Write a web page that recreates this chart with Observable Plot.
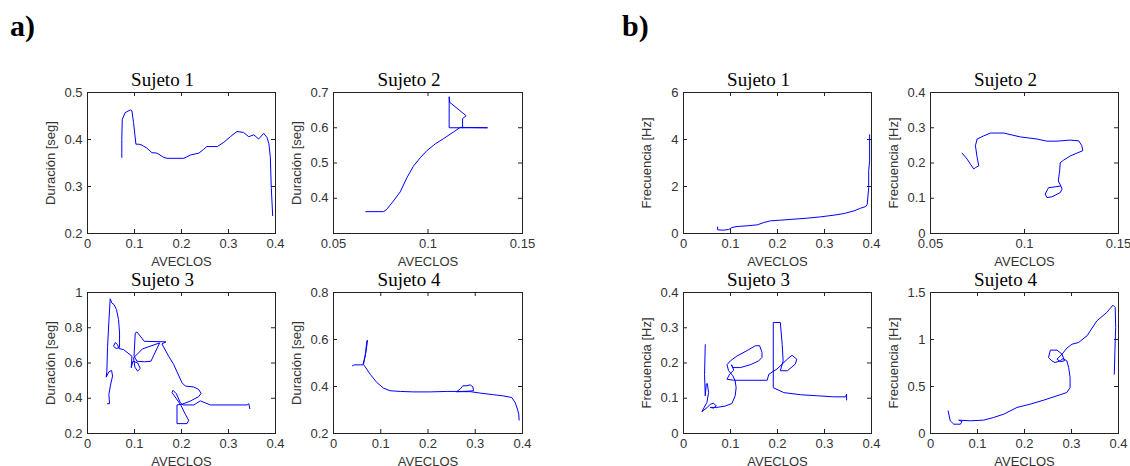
<!DOCTYPE html>
<html><head><meta charset="utf-8">
<script src="https://cdn.jsdelivr.net/npm/d3@7"></script>
<script src="https://cdn.jsdelivr.net/npm/@observablehq/plot@0.6"></script>
<style>
body{margin:0;background:#fff;}
#root{position:relative;width:1130px;height:466px;overflow:hidden;background:#fff;}
.pl{position:absolute;}
.tag{position:absolute;font-family:"Liberation Serif",serif;font-weight:bold;font-size:30px;line-height:1;color:#000;}
</style></head><body><div id="root"></div>
<script>
// Tick values
const xTicksWide = [0, 0.1, 0.2, 0.3, 0.4];
const xTicksNarrow = [0.05, 0.1, 0.15];
const yTicksDur1 = [0.2, 0.3, 0.4, 0.5];
const yTicksDur2 = [0.4, 0.5, 0.6, 0.7];
const yTicksDur3 = [0.2, 0.4, 0.6, 0.8, 1];
const yTicksDur4 = [0.2, 0.4, 0.6, 0.8];
const yTicksFrec1 = [0, 2, 4, 6];
const yTicksFrec2 = [0, 0.1, 0.2, 0.3, 0.4];
const yTicksFrec3 = [0, 0.1, 0.2, 0.3, 0.4];
const yTicksFrec4 = [0, 0.5, 1, 1.5];

// Series: [AVECLOS, value]
const durSujeto1 = [[0.073,0.362],[0.073,0.40],[0.074,0.443],[0.080,0.457],[0.091,0.463],[0.0945,0.461],[0.098,0.436],[0.103,0.390],[0.109,0.390],[0.116,0.388],[0.119,0.386],[0.126,0.382],[0.137,0.372],[0.148,0.371],[0.162,0.362],[0.169,0.360],[0.205,0.360],[0.219,0.367],[0.237,0.371],[0.247,0.379],[0.254,0.385],[0.276,0.385],[0.290,0.394],[0.304,0.406],[0.318,0.417],[0.332,0.415],[0.343,0.406],[0.354,0.410],[0.364,0.401],[0.375,0.413],[0.382,0.404],[0.386,0.391],[0.389,0.362],[0.391,0.298],[0.394,0.238]];
const durSujeto2 = [[0.0671,0.362],[0.0765,0.362],[0.0779,0.367],[0.0817,0.392],[0.0853,0.418],[0.0888,0.458],[0.0923,0.491],[0.0959,0.515],[0.0994,0.535],[0.1038,0.554],[0.1082,0.569],[0.1135,0.588],[0.1170,0.601],[0.1315,0.600],[0.1112,0.600],[0.1112,0.688],[0.1115,0.672],[0.1202,0.634],[0.1183,0.626],[0.1183,0.600]];
const durSujeto3 = [[0.0426,0.369],[0.0469,0.369],[0.0455,0.422],[0.0490,0.475],[0.0533,0.526],[0.0512,0.558],[0.0455,0.550],[0.0398,0.520],[0.0412,0.554],[0.0426,0.686],[0.0455,0.836],[0.0483,0.964],[0.0519,0.940],[0.0568,0.930],[0.0618,0.902],[0.0661,0.846],[0.0682,0.770],[0.0682,0.689],[0.0611,0.682],[0.0554,0.695],[0.0590,0.716],[0.0639,0.704],[0.0668,0.682],[0.0767,0.676],[0.0945,0.639],[0.0931,0.573],[0.0966,0.610],[0.1066,0.601],[0.1123,0.569],[0.1066,0.554],[0.1009,0.576],[0.0980,0.629],[0.1170,0.680],[0.1535,0.714],[0.1350,0.610],[0.1208,0.607],[0.1052,0.610],[0.0990,0.640],[0.1016,0.770],[0.1052,0.776],[0.1123,0.752],[0.1208,0.723],[0.1670,0.720],[0.1584,0.708],[0.1726,0.639],[0.1833,0.592],[0.2011,0.488],[0.2082,0.469],[0.2259,0.464],[0.2366,0.450],[0.2416,0.428],[0.2366,0.409],[0.2188,0.384],[0.2011,0.366],[0.1904,0.362],[0.1904,0.256],[0.2117,0.256],[0.2153,0.275],[0.2082,0.309],[0.1975,0.366],[0.1798,0.432],[0.1819,0.445],[0.1890,0.426],[0.1975,0.375],[0.2032,0.362],[0.2259,0.362],[0.2401,0.385],[0.2615,0.362],[0.3396,0.362],[0.3432,0.369],[0.3453,0.341]];
const durSujeto4 = [[0.0402,0.488],[0.0437,0.492],[0.0621,0.492],[0.0670,0.530],[0.0706,0.594],[0.0720,0.597],[0.0690,0.550],[0.0650,0.510],[0.0635,0.494],[0.0670,0.484],[0.0776,0.452],[0.0917,0.417],[0.1058,0.393],[0.1199,0.382],[0.1411,0.379],[0.1693,0.377],[0.2046,0.377],[0.2399,0.379],[0.2610,0.379],[0.2681,0.389],[0.2737,0.403],[0.2822,0.403],[0.2892,0.407],[0.2949,0.399],[0.2963,0.382],[0.2850,0.380],[0.2600,0.378],[0.2900,0.378],[0.3102,0.372],[0.3385,0.365],[0.3596,0.360],[0.3773,0.353],[0.3843,0.332],[0.3893,0.304],[0.3921,0.282],[0.3928,0.257]];
const frecSujeto1 = [[0.0726,0.28],[0.0726,0.156],[0.085,0.142],[0.096,0.170],[0.103,0.255],[0.114,0.298],[0.135,0.326],[0.157,0.369],[0.171,0.468],[0.185,0.539],[0.206,0.567],[0.235,0.61],[0.263,0.652],[0.292,0.709],[0.32,0.78],[0.342,0.851],[0.363,0.965],[0.377,1.078],[0.388,1.149],[0.391,1.248],[0.394,1.957],[0.394,2.667],[0.396,3.09],[0.396,4.2]];
const frecSujeto2 = [[0.0668,0.228],[0.0695,0.211],[0.0712,0.197],[0.0730,0.183],[0.0739,0.187],[0.0757,0.192],[0.0748,0.216],[0.0739,0.249],[0.0748,0.268],[0.0783,0.277],[0.0819,0.285],[0.0889,0.285],[0.0978,0.274],[0.1066,0.268],[0.1119,0.262],[0.1173,0.262],[0.1243,0.265],[0.1288,0.263],[0.1305,0.249],[0.1310,0.235],[0.1243,0.220],[0.1208,0.208],[0.1190,0.201],[0.1187,0.178],[0.1180,0.149],[0.1193,0.135],[0.1173,0.133],[0.1128,0.130],[0.1110,0.112],[0.1119,0.102],[0.1146,0.104],[0.1190,0.116],[0.1200,0.126],[0.1193,0.135]];
const frecSujeto3 = [[0.0463,0.252],[0.0448,0.168],[0.0463,0.107],[0.0484,0.140],[0.0505,0.142],[0.0534,0.116],[0.0498,0.088],[0.0391,0.062],[0.0498,0.073],[0.0570,0.083],[0.0640,0.086],[0.0698,0.078],[0.0640,0.072],[0.0570,0.074],[0.0710,0.074],[0.0890,0.078],[0.1030,0.085],[0.1100,0.107],[0.1120,0.130],[0.1100,0.149],[0.1050,0.164],[0.0960,0.178],[0.0925,0.195],[0.0996,0.206],[0.1140,0.220],[0.1350,0.235],[0.1530,0.249],[0.1620,0.249],[0.1670,0.230],[0.1670,0.216],[0.1600,0.206],[0.1420,0.195],[0.1210,0.187],[0.1050,0.187],[0.1020,0.195],[0.1070,0.180],[0.0980,0.168],[0.0925,0.154],[0.1070,0.151],[0.1780,0.151],[0.1815,0.168],[0.1990,0.183],[0.2210,0.211],[0.2310,0.222],[0.2410,0.211],[0.2380,0.197],[0.2210,0.178],[0.2060,0.178],[0.2120,0.206],[0.2100,0.253],[0.2060,0.315],[0.1910,0.315],[0.1910,0.206],[0.1910,0.130],[0.2135,0.116],[0.2490,0.110],[0.2850,0.107],[0.3200,0.104],[0.3450,0.104],[0.3470,0.112],[0.3470,0.095]];
const frecSujeto4 = [[0.0375,0.241],[0.042,0.135],[0.0496,0.099],[0.0637,0.099],[0.067,0.128],[0.060,0.142],[0.085,0.135],[0.113,0.142],[0.134,0.170],[0.156,0.206],[0.184,0.277],[0.212,0.312],[0.241,0.355],[0.269,0.401],[0.290,0.436],[0.297,0.489],[0.297,0.596],[0.294,0.702],[0.290,0.773],[0.282,0.798],[0.276,0.773],[0.265,0.755],[0.258,0.773],[0.251,0.809],[0.255,0.887],[0.269,0.887],[0.280,0.844],[0.285,0.773],[0.276,0.765],[0.269,0.791],[0.280,0.844],[0.290,0.908],[0.301,0.950],[0.315,0.968],[0.333,1.039],[0.354,1.199],[0.375,1.287],[0.388,1.365],[0.393,1.34],[0.394,1.128],[0.393,0.986],[0.391,0.631]];

const titles = ["Sujeto 1", "Sujeto 2", "Sujeto 3", "Sujeto 4"];
const xLabel = "AVECLOS";
const yLabelDur = "Duración [seg]";
const yLabelFrec = "Frecuencia [Hz]";

const ML = 60, MR = 12, MT = 34, MB = 40;
const panels = [
  {left:87,  top:92,  w:188, h:141, data:durSujeto1, xd:[0,0.4],     xt:xTicksWide,   yd:[0.2,0.5], yt:yTicksDur1,  yl:yLabelDur,  t:titles[0]},
  {left:333, top:92,  w:189, h:141, data:durSujeto2, xd:[0.05,0.15], xt:xTicksNarrow, yd:[0.3,0.7], yt:yTicksDur2,  yl:yLabelDur,  t:titles[1]},
  {left:87,  top:292, w:188, h:141, data:durSujeto3, xd:[0,0.4],     xt:xTicksWide,   yd:[0.2,1],   yt:yTicksDur3,  yl:yLabelDur,  t:titles[2]},
  {left:333, top:292, w:189, h:141, data:durSujeto4, xd:[0,0.4],     xt:xTicksWide,   yd:[0.2,0.8], yt:yTicksDur4,  yl:yLabelDur,  t:titles[3]},
  {left:683, top:92,  w:188, h:141, data:frecSujeto1, xd:[0,0.4],     xt:xTicksWide,   yd:[0,6],     yt:yTicksFrec1, yl:yLabelFrec, t:titles[0]},
  {left:930, top:92,  w:188, h:141, data:frecSujeto2, xd:[0.05,0.15], xt:xTicksNarrow, yd:[0,0.4],   yt:yTicksFrec2, yl:yLabelFrec, t:titles[1]},
  {left:683, top:292, w:188, h:141, data:frecSujeto3, xd:[0,0.4],     xt:xTicksWide,   yd:[0,0.4],   yt:yTicksFrec3, yl:yLabelFrec, t:titles[2]},
  {left:930, top:292, w:188, h:141, data:frecSujeto4, xd:[0,0.4],     xt:xTicksWide,   yd:[0,1.5],   yt:yTicksFrec4, yl:yLabelFrec, t:titles[3]}
];

const root = document.getElementById("root");
const fmt = d => String(d);
for (const p of panels) {
  const data = p.data.map(([x, y]) => ({x, y}));
  const svg = Plot.plot({
    width: ML + p.w + MR, height: MT + p.h + MB,
    marginLeft: ML, marginRight: MR, marginTop: MT, marginBottom: MB,
    style: {background: "transparent", overflow: "visible", fontFamily: "'Liberation Sans', Arial, sans-serif", fontSize: "13px", color: "#333"},
    x: {domain: p.xd, ticks: p.xt, tickFormat: fmt, tickSize: 0, tickPadding: 5, label: xLabel, labelAnchor: "center", labelOffset: 32, labelArrow: "none"},
    y: {domain: p.yd, ticks: p.yt, tickFormat: fmt, tickSize: 0, tickPadding: 5, label: p.yl, labelAnchor: "center", labelOffset: 42, labelArrow: "none"},
    marks: [
      Plot.tickX(p.xt, {x: d => d, insetTop: p.h - 4, stroke: "#222"}),
      Plot.tickX(p.xt, {x: d => d, insetBottom: p.h - 4, stroke: "#222"}),
      Plot.tickY(p.yt, {y: d => d, insetRight: p.w - 4, stroke: "#222"}),
      Plot.tickY(p.yt, {y: d => d, insetLeft: p.w - 4, stroke: "#222"}),
      Plot.line(data, {x: "x", y: "y", stroke: "#0000ff", strokeWidth: 1}),
      Plot.frame({stroke: "#222"}),
      Plot.text([p.t], {frameAnchor: "top", lineAnchor: "bottom", dx: -19, dy: -7, text: d => d, fontFamily: "'Liberation Serif', serif", fontSize: 19, fill: "#000"})
    ]
  });
  svg.classList.add("pl");
  svg.style.left = (p.left - ML) + "px";
  svg.style.top = (p.top - MT) + "px";
  svg.style.maxWidth = "none";
  root.appendChild(svg);
}
for (const [txt, x] of [["a)", 10], ["b)", 622]]) {
  const d = document.createElement("div");
  d.className = "tag"; d.textContent = txt;
  d.style.left = x + "px"; d.style.top = "11px";
  root.appendChild(d);
}
</script>
</body></html>
